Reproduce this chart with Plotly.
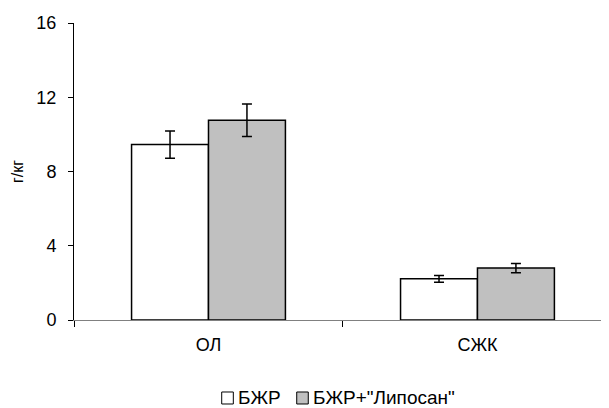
import plotly.graph_objects as go

categories = ["ОЛ", "СЖК"]
series_names = ["БЖР", "БЖР+\"Липосан\""]
series_colors = ["white", "#c0c0c0"]
control_vals = [9.45, 2.22]
control_err = [0.73, 0.18]
liposan_vals = [10.76, 2.80]
liposan_err = [0.87, 0.25]
y_ticks = [0, 4, 8, 12, 16]

FONT = "Liberation Sans, Arial, sans-serif"

fig = go.Figure()
for name, vals, errs, col in [
    (series_names[0], control_vals, control_err, series_colors[0]),
    (series_names[1], liposan_vals, liposan_err, series_colors[1]),
]:
    fig.add_trace(go.Bar(
        x=categories, y=vals, name=name,
        marker=dict(color=col, line=dict(color="black", width=1.5)),
        error_y=dict(type="data", array=errs, color="black", thickness=1.5, width=5),
    ))

# custom legend (square swatch + label), positioned in paper coordinates
legend_items = [
    (0.2761, 0.2978, 0.3028),
    (0.4163, 0.4379, 0.4430),
]
for (x0, x1, tx), name, col in zip(legend_items, series_names, series_colors):
    fig.add_shape(type="rect", xref="paper", yref="paper",
                  x0=x0, x1=x1, y0=-0.2828, y1=-0.2424,
                  fillcolor=col, line=dict(color="black", width=1))
    fig.add_annotation(xref="paper", yref="paper", x=tx, y=-0.2593,
                       xanchor="left", yanchor="middle", text=name, showarrow=False,
                       font=dict(size=19, family=FONT, color="black"))

fig.update_layout(
    width=601, height=400,
    margin=dict(l=66, r=0, t=15, b=88),
    paper_bgcolor="white", plot_bgcolor="white",
    barmode="group", bargap=0.428, bargroupgap=0,
    font=dict(family=FONT, color="black", size=18),
    showlegend=False,
)
fig.update_xaxes(
    range=[-0.5, 1.489], showline=True, linecolor="#808080", linewidth=1,
    ticks="outside", tickson="boundaries", ticklen=6, tickcolor="black",
    tickfont=dict(size=18), showgrid=False, zeroline=False, ticklabelstandoff=8,
)
fig.update_yaxes(
    range=[0, 16], tickvals=y_ticks, showline=True, linecolor="black", linewidth=1,
    ticks="outside", ticklen=5, tickcolor="black", tickfont=dict(size=18),
    showgrid=False, zeroline=False, ticklabelstandoff=8,
    title=dict(text="г/кг", font=dict(size=16), standoff=8),
)

fig.write_html("out.html")
